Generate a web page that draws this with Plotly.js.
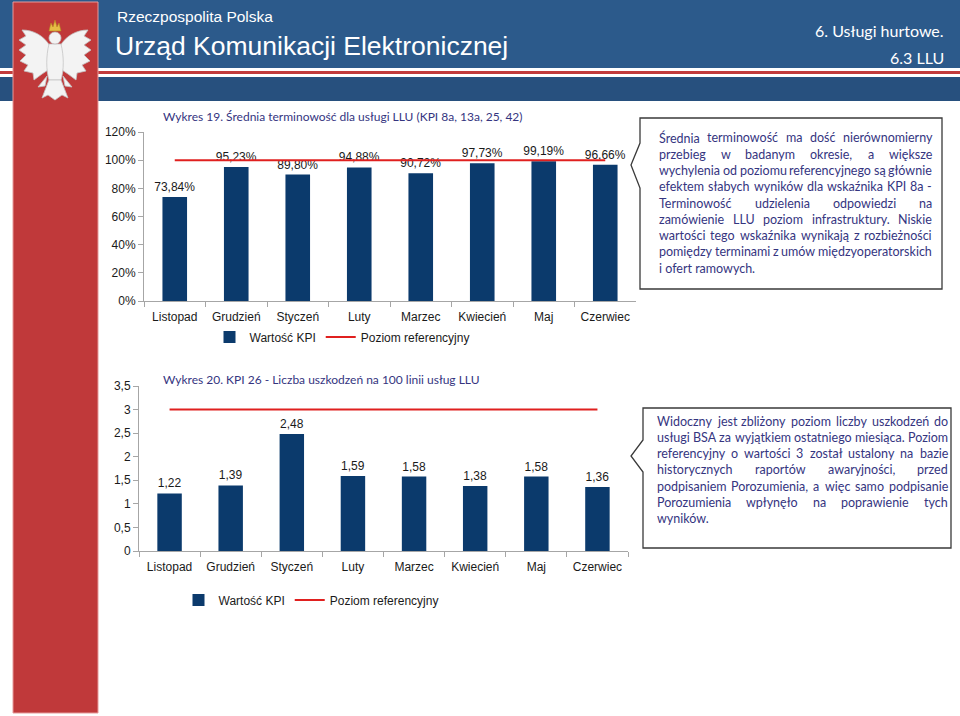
<!DOCTYPE html>
<html>
<head>
<meta charset="utf-8">
<script src="https://cdn.plot.ly/plotly-3.0.1.min.js"></script>
<style>html,body{margin:0;padding:0;background:#fff;}#chart{width:960px;height:716px;}</style>
</head>
<body>
<div id="chart"></div>
<script>
// ---------- DATA ----------
const categories = ['Listopad','Grudzień','Styczeń','Luty','Marzec','Kwiecień','Maj','Czerwiec'];
const kpiValues19 = [73.84, 95.23, 89.80, 94.88, 90.72, 97.73, 99.19, 96.66];
const refLevel19  = [100, 100, 100, 100, 100, 100, 100, 100];
const kpiValues20 = [1.22, 1.39, 2.48, 1.59, 1.58, 1.38, 1.58, 1.36];
const refLevel20  = [3, 3, 3, 3, 3, 3, 3, 3];
const seriesNames = ['Wartość KPI', 'Poziom referencyjny'];
const title19 = 'Wykres 19. Średnia terminowość dla usługi LLU (KPI 8a, 13a, 25, 42)';
const title20 = 'Wykres 20. KPI 26 - Liczba uszkodzeń na 100 linii usług LLU';
const headerSmall = 'Rzeczpospolita Polska';
const headerBig = 'Urząd Komunikacji Elektronicznej';
const sectionLine1 = '6. Usługi hurtowe.';
const sectionLine2 = '6.3 LLU';
const box1Lines = [
  'Średnia terminowość ma dość nierównomierny',
  'przebieg w badanym okresie, a większe',
  'wychylenia od poziomu referencyjnego są głównie',
  'efektem słabych wyników dla wskaźnika KPI 8a -',
  'Terminowość udzielenia odpowiedzi na',
  'zamówienie LLU poziom infrastruktury. Niskie',
  'wartości tego wskaźnika wynikają z rozbieżności',
  'pomiędzy terminami z umów międzyoperatorskich',
  'i ofert ramowych.'
];
const box2Lines = [
  'Widoczny jest zbliżony poziom liczby uszkodzeń do',
  'usługi BSA za wyjątkiem ostatniego miesiąca. Poziom',
  'referencyjny o wartości 3 został ustalony na bazie',
  'historycznych raportów awaryjności, przed',
  'podpisaniem Porozumienia, a więc samo podpisanie',
  'Porozumienia wpłynęło na poprawienie tych',
  'wyników.'
];

// ---------- HELPERS ----------
const W = 960, H = 716;
const px = x => x / W;
const py = y => 1 - y / H;
const NAVY = '#0b3a6c', RED = '#e0201f', TXT = '#35357f', AX = '#a6a6a6';
const BODY_FONT = 'Lato, "Open Sans", sans-serif';
const ARIAL = '"Liberation Sans", Arial, sans-serif';

function rect(x0, y0, x1, y1, fill, line) {
  return {type:'rect', xref:'paper', yref:'paper', x0:px(x0), x1:px(x1), y0:py(y1), y1:py(y0),
          fillcolor:fill, line: line || {width:0}, layer:'below'};
}
function pathShape(cmds, fill, lineColor, lw, layer) {
  let d = '';
  cmds.forEach(c => {
    d += c[0];
    const nums = c.slice(1);
    const parts = [];
    for (let i = 0; i < nums.length; i += 2) parts.push(px(nums[i]).toFixed(5) + ',' + py(nums[i+1]).toFixed(5));
    d += parts.join(' ') + ' ';
  });
  return {type:'path', xref:'paper', yref:'paper', path:d.trim(), fillcolor:fill,
          line:{color:lineColor, width:lw}, layer: layer || 'above'};
}
function mirror(cmds, cx) {
  return cmds.map(c => { const o=[c[0]]; for (let i=1;i<c.length;i+=2){o.push(2*cx-c[i]); o.push(c[i+1]);} return o; });
}

const canvas = document.createElement('canvas');
const ctx = canvas.getContext('2d');
function measure(text, size, family) { ctx.font = size + 'px ' + family; return ctx.measureText(text).width; }

function justified(lines, x0, x1, yStart, lh, family, color) {
  const width = x1 - x0;
  let size = 13.5;
  const fits = s => lines.slice(0, -1).every(l => {
    const words = l.split(' ');
    const sum = words.reduce((a,w) => a + measure(w, s, family), 0);
    return (width - sum) / Math.max(1, words.length - 1) >= measure(' ', s, family) * 0.8;
  });
  while (size > 9 && !fits(size)) size -= 0.25;
  const anns = [];
  lines.forEach((l, i) => {
    const y = yStart + i * lh;
    const words = l.split(' ');
    if (i === lines.length - 1 || words.length < 2) {
      anns.push({x:px(x0), y:py(y), xref:'paper', yref:'paper', text:l, showarrow:false,
                 xanchor:'left', yanchor:'middle', font:{family, size, color}});
      return;
    }
    const widths = words.map(w => measure(w, size, family));
    const gap = (width - widths.reduce((a,b)=>a+b,0)) / (words.length - 1);
    let x = x0;
    words.forEach((w, k) => {
      anns.push({x:px(x), y:py(y), xref:'paper', yref:'paper', text:w, showarrow:false,
                 xanchor:'left', yanchor:'middle', font:{family, size, color}});
      x += widths[k] + gap;
    });
  });
  return anns;
}

// ---------- TRACES ----------
const traces = [
  {type:'bar', x:categories, y:kpiValues19, name:seriesNames[0], xaxis:'x', yaxis:'y', legend:'legend',
   marker:{color:NAVY}, width:0.4, texttemplate:'%{y:.2f}%', textposition:'outside', constraintext:'none',
   cliponaxis:false, textfont:{family:ARIAL, size:12, color:'#1a1a1a'}, hoverinfo:'skip'},
  {type:'scatter', mode:'lines', x:categories, y:refLevel19, name:seriesNames[1], xaxis:'x', yaxis:'y', legend:'legend',
   line:{color:RED, width:2}, hoverinfo:'skip'},
  {type:'bar', x:categories, y:kpiValues20, name:seriesNames[0], xaxis:'x2', yaxis:'y2', legend:'legend2',
   marker:{color:NAVY}, width:0.4, texttemplate:'%{y:.2f}', textposition:'outside', constraintext:'none',
   cliponaxis:false, textfont:{family:ARIAL, size:12, color:'#1a1a1a'}, hoverinfo:'skip'},
  {type:'scatter', mode:'lines', x:categories, y:refLevel20, name:seriesNames[1], xaxis:'x2', yaxis:'y2', legend:'legend2',
   line:{color:RED, width:2}, hoverinfo:'skip'}
];

// ---------- SHAPES ----------
const shapes = [];
// header
shapes.push(rect(0, 0, 960, 68, '#2c5a8b'));
shapes.push(rect(0, 68, 960, 71, '#ffffff'));
shapes.push(rect(0, 71, 960, 74, '#c23b3b'));
shapes.push(rect(0, 74, 960, 77, '#ffffff'));
shapes.push(rect(0, 77, 960, 101, '#27507e'));
// red side bar
shapes.push(rect(13, 2, 98, 713, '#c0393a', {color:'#e79a9a', width:1}));
// eagle (simplified)
const EF = '#f3f3f3', EL = '#c4c4c4';
const leftWing = [['M',50,46],['C',44,36,34,30,22,30],['L',26,36],['L',19,40],['L',26,45],['L',19,50],['L',26,55],
                  ['L',20,61],['L',28,65],['L',24,71],['L',33,73],['L',34,80],['L',42,74],['L',48,70],['Z']];
shapes.push(pathShape(leftWing, EF, EL, 0.8));
shapes.push(pathShape(mirror(leftWing, 55), EF, EL, 0.8));
shapes.push(pathShape([['M',49,44],['C',46,56,46,70,49,80],['L',61,80],['C',64,70,64,56,61,44],['Z']], EF, EL, 0.8));
shapes.push(pathShape([['M',49,80],['L',61,80],['L',68,98],['L',62,95],['L',55,100],['L',48,95],['L',42,98],['Z']], EF, EL, 0.8));
shapes.push(pathShape([['M',47,76],['L',38,87],['L',45,86],['Z']], EF, EL, 0.8));
shapes.push(pathShape(mirror([['M',47,76],['L',38,87],['L',45,86],['Z']], 55), EF, EL, 0.8));
shapes.push({type:'circle', xref:'paper', yref:'paper', x0:px(49), x1:px(61), y0:py(44), y1:py(32),
             fillcolor:EF, line:{color:EL, width:0.8}, layer:'above'});
shapes.push(pathShape([['M',49,31],['L',51,23],['L',53,27],['L',55,20],['L',57,27],['L',59,23],['L',61,31],['Z']], '#e6bd45', '#b38a20', 0.6));
// callout boxes
shapes.push(pathShape([['M',640,118],['L',942,118],['L',942,289],['L',640,289],['L',640,188],['L',631,165],['L',640,143],['Z']],
                      '#ffffff', '#3a3a3a', 1.3));
shapes.push(pathShape([['M',643,408],['L',951,408],['L',951,548],['L',643,548],['L',643,472],['L',631,456],['L',643,440],['Z']],
                      '#ffffff', '#3a3a3a', 1.3));

// ---------- ANNOTATIONS ----------
const annotations = [
  {x:px(115), y:py(17), xref:'paper', yref:'paper', text:headerSmall, showarrow:false, xanchor:'left', yanchor:'middle',
   font:{family:'"Liberation Sans Narrow", "Liberation Sans", Arial, sans-serif', size:15.5, color:'#ffffff'}},
  {x:px(113), y:py(46), xref:'paper', yref:'paper', text:headerBig, showarrow:false, xanchor:'left', yanchor:'middle',
   font:{family:'"Liberation Sans Narrow", "Liberation Sans", Arial, sans-serif', size:26.5, color:'#ffffff'}},
  {x:px(946), y:py(30), xref:'paper', yref:'paper', text:sectionLine1, showarrow:false, xanchor:'right', yanchor:'middle',
   font:{family:BODY_FONT, size:16, color:'#ffffff'}},
  {x:px(946), y:py(57), xref:'paper', yref:'paper', text:sectionLine2, showarrow:false, xanchor:'right', yanchor:'middle',
   font:{family:BODY_FONT, size:16, color:'#ffffff'}},
  {x:px(161), y:py(116), xref:'paper', yref:'paper', text:title19, showarrow:false, xanchor:'left', yanchor:'middle',
   font:{family:BODY_FONT, size:12, color:TXT}},
  {x:px(161), y:py(379), xref:'paper', yref:'paper', text:title20, showarrow:false, xanchor:'left', yanchor:'middle',
   font:{family:BODY_FONT, size:12, color:TXT}}
].concat(
  justified(box1Lines, 657, 930, 138, 16.25, BODY_FONT, TXT),
  justified(box2Lines, 655, 946, 421, 16.3, BODY_FONT, TXT)
);

// ---------- LAYOUT ----------
const xCommon = {type:'category', showline:true, linecolor:AX, linewidth:1, ticks:'outside', tickson:'boundaries',
                 ticklen:5, tickcolor:AX, showgrid:false, zeroline:false, fixedrange:true, ticklabelstandoff:5,
                 tickfont:{family:ARIAL, size:12, color:'#1a1a1a'}};
const yCommon = {showline:true, linecolor:AX, linewidth:1, ticks:'outside', ticklen:5, tickcolor:AX,
                 showgrid:false, zeroline:false, fixedrange:true, tickfont:{family:ARIAL, size:12, color:'#1a1a1a'}};

const layout = {
  width:W, height:H, margin:{l:0, r:0, t:0, b:0}, paper_bgcolor:'#ffffff', plot_bgcolor:'rgba(0,0,0,0)',
  separators:', ', showlegend:true, hovermode:false,
  font:{family:ARIAL, size:12, color:'#1a1a1a'},
  xaxis: Object.assign({}, xCommon, {domain:[px(144), px(636)], anchor:'y'}),
  yaxis: Object.assign({}, yCommon, {domain:[py(301), py(132)], range:[0,120], dtick:20, ticksuffix:'%', anchor:'x'}),
  xaxis2: Object.assign({}, xCommon, {domain:[px(139), px(628)], anchor:'y2'}),
  yaxis2: Object.assign({}, yCommon, {domain:[py(551), py(386)], range:[0,3.5], dtick:0.5, anchor:'x2'}),
  legend: {orientation:'h', x:px(342), xanchor:'center', y:py(337), yanchor:'middle', bgcolor:'rgba(0,0,0,0)',
           font:{family:ARIAL, size:12, color:'#1a1a1a'}, itemwidth:30, traceorder:'normal'},
  legend2: {orientation:'h', x:px(311), xanchor:'center', y:py(600), yanchor:'middle', bgcolor:'rgba(0,0,0,0)',
           font:{family:ARIAL, size:12, color:'#1a1a1a'}, itemwidth:30, traceorder:'normal'},
  shapes, annotations
};

Plotly.newPlot('chart', traces, layout, {staticPlot:true, displayModeBar:false});
</script>
</body>
</html>
